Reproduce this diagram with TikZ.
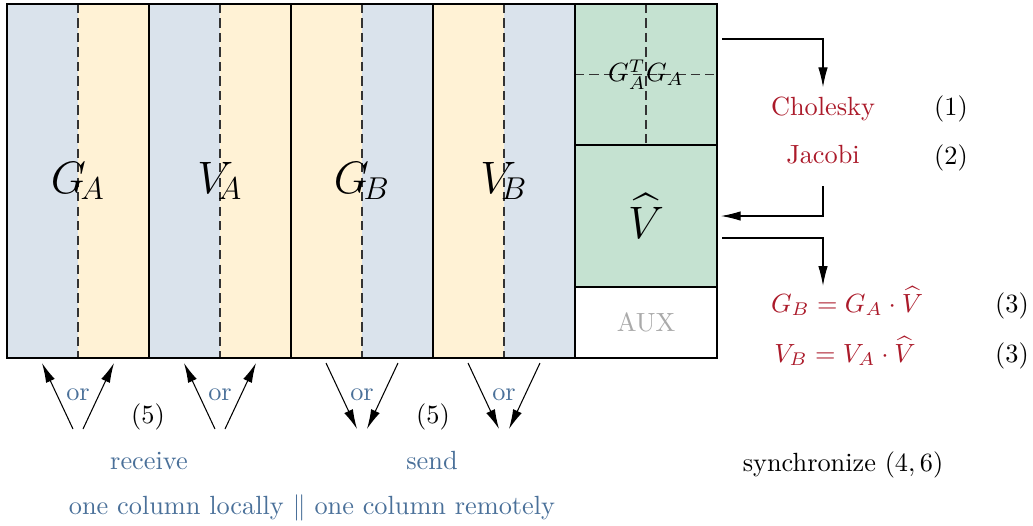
\documentclass[tikz,border=0pt]{standalone}
\definecolor{svdBlue}{HTML}{DAE3EC}
\definecolor{svdSand}{HTML}{FFF2D5}
\definecolor{svdGreen}{HTML}{C5E2D1}
\definecolor{svdRed}{HTML}{AB1A2A}
\definecolor{svdSteel}{HTML}{4A7099}
\definecolor{svdGray}{HTML}{AAAAAA}
\definecolor{svdDash}{HTML}{333333}
\usepackage{tikz}
\usetikzlibrary{arrows.meta, positioning}
\usepackage{amsmath}
\usepackage{xcolor}

\begin{document}
\begin{tikzpicture}[
  x=0.38pt, y=-0.38pt,
  block/.style={font=\fontsize{18}{22}\selectfont, inner sep=0pt},
  part/.style={minimum width=53.96pt, inner sep=0pt, outer sep=1.5pt},
  alg/.style={text=svdRed, anchor=base},
  eqn/.style={text=svdRed, anchor=base, inner ysep=0pt},
  tag/.style={anchor=base},
  comm/.style={text=svdSteel, anchor=base},
  arr/.style={-{Latex[length=7.5pt, width=3.6pt]}, thin},
  split/.style={svdDash, thin, dash pattern=on 3.5pt off 2pt}
]
  \useasboundingbox (0,0) rectangle (1033,525);

  % Columns
  \foreach \x/\lcol/\rcol in {7/svdBlue/svdSand, 149/svdBlue/svdSand,
      291/svdSand/svdBlue, 433/svdSand/svdBlue} {
    \fill[\lcol] (\x,4) rectangle (\x+71,358);
    \fill[\rcol] (\x+71,4) rectangle (\x+142,358);
    \draw[split] (\x+71,4) -- (\x+71,358);
  }
  \fill[svdGreen] (575,4) rectangle (717,287);
  \draw[split] (646,4) -- (646,145);
  \draw[split] (575,74.5) -- (717,74.5);
  \draw[thin] (575,145) -- (717,145);
  \draw[thin] (575,287) -- (717,287);
  \foreach \x in {149,291,433,575} \draw[line width=1pt] (\x,4) -- (\x,358);
  \draw[line width=1pt] (7,4) rectangle (717,358);

  % Nodes
  \node[block] (ga) at (78,181) {$G_{\!A}$};
  \node[block] (va) at (220,181) {$V_{\!A}$};
  \node[block] (gb) at (362,181) {$G_{\!B}$};
  \node[block] (vb) at (504,181) {$V_{\!B}$};
  \node[part, minimum height=53.6pt] (gram) at (646,74.5) {$G_A^T G_A$};
  \node[part, minimum height=53.96pt, font=\fontsize{18}{22}\selectfont] (vhat) at (646,216) {$\widehat{V}$};
  \node[part, minimum height=27pt, text=svdGray] (aux) at (646,322.5) {AUX};

  \node[alg] (chol) at (823,115) {Cholesky};
  \node[alg] (jac) at (823,163) {Jacobi};
  \node[tag] (t1) at (951,115) {(1)};
  \node[tag] (t2) at (951,164) {(2)};
  \node[eqn] (eqG) at (847,312) {$G_B = G_A \cdot \widehat{V}$};
  \node[eqn] (eqV) at (845,362) {$V_B = V_A \cdot \widehat{V}$};
  \node[tag] (t3a) at (1012,312) {(3)};
  \node[tag] (t3b) at (1012,362) {(3)};
  \node[tag] (sync) at (843,471) {synchronize $(4,6)$};

  \node[tag] (t5a) at (148,423) {(5)};
  \node[tag] (t5b) at (433,423) {(5)};
  \node[comm] (recv) at (149,469) {receive};
  \node[comm] (send) at (432,469) {send};
  \node[comm] (where) at (312,514) {one column locally $\|$ one column remotely};

  % Transfers
  \foreach \cx [count=\i] in {78,220,362,504} {
    \node[comm] (or\i) at (\cx,400) {or};
    \coordinate (hi\i-l) at (\cx-36,363);
    \coordinate (hi\i-r) at (\cx+36,363);
    \coordinate (lo\i-l) at (\cx-5,429);
    \coordinate (lo\i-r) at (\cx+5,429);
  }
  \foreach \i in {1,2} {
    \draw[arr] (lo\i-l) -- (hi\i-l);
    \draw[arr] (lo\i-r) -- (hi\i-r);
  }
  \foreach \i in {3,4} {
    \draw[arr] (hi\i-l) -- (lo\i-l);
    \draw[arr] (hi\i-r) -- (lo\i-r);
  }

  % Paths
  \coordinate (tapGram) at (722,39);
  \coordinate (tapV) at (722,238);
  \draw[arr] (tapGram) -| (chol);
  \draw[arr] ([yshift=-5pt]jac.south) |- (vhat);
  \draw[arr] (tapV) -| (chol |- eqG.north);
\end{tikzpicture}
\end{document}
